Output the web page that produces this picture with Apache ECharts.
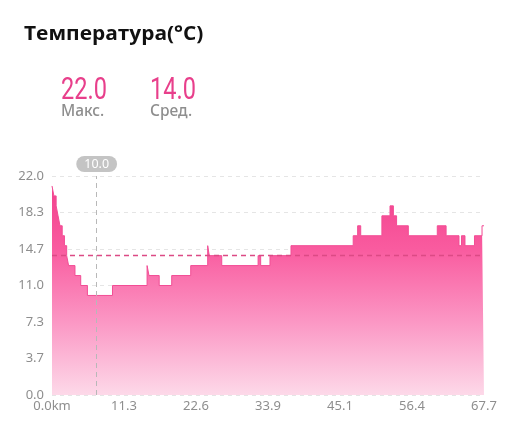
<!DOCTYPE html>
<html>
<head>
<meta charset="utf-8">
<script src="https://cdn.jsdelivr.net/npm/echarts@6/dist/echarts.min.js"></script>
<style>
html,body{margin:0;padding:0;background:#fff;}
#chart{width:512px;height:421px;}
</style>
</head>
<body>
<div id="chart"></div>
<script>
// ---- data ----
var chartTitle = 'Температура(°C)';
var statValues = ['22.0', '14.0'];
var statLabels = ['Макс.', 'Сред.'];
// distance (km) where each step begins, and its temperature (°C)
var segStartKm = [0, 0.3, 0.65, 0.95, 1.25, 1.6, 1.95, 2.3, 2.6, 3.6,
  4.5, 5.55, 9.48, 14.9, 15.2, 16.8, 18.76, 21.74, 24.4, 24.65,
  26.6, 32.3, 32.7, 34.16, 37.45, 47.2, 47.9, 48.38, 51.7, 52.97,
  53.5, 54.0, 55.84, 60.38, 61.76, 63.78, 64.17, 64.72, 66.21, 67.39,
  67.7];
var tempC = [21, 20, 19, 18, 17, 16, 15, 14, 13, 12,
  11, 10, 11, 13, 12, 11, 12, 13, 15, 14,
  13, 14, 13, 14, 15, 16, 17, 16, 18, 19,
  18, 17, 16, 17, 16, 15, 16, 15, 16, 17,
  17];
var avgTemp = 14.0;
var cursorKm = 7.0;
var xTickLabels = ['0.0km', '11.3', '22.6', '33.9', '45.1', '56.4', '67.7'];
var yTickLabels = ['0.0', '3.7', '7.3', '11.0', '14.7', '18.3', '22.0'];
var xMax = 67.7, yMax = 22.0;

// ---- build ----
var seriesData = segStartKm.map(function (k, i) { return [k, tempC[i]]; });
function tempAt(km) {
  var v = tempC[0];
  for (var i = 0; i < segStartKm.length; i++) { if (segStartKm[i] <= km) v = tempC[i]; }
  return v;
}
var xInt = xMax / (xTickLabels.length - 1);
var yInt = yMax / (yTickLabels.length - 1);
var pink = '#e83f8b';
var numFont = '31px Roboto, "Noto Sans", sans-serif';
var lblFont = '500 15.5px "Noto Sans", sans-serif';

var chart = echarts.init(document.getElementById('chart'), null, {renderer: 'canvas'});
chart.setOption({
  animation: false,
  backgroundColor: '#ffffff',
  grid: {left: 52, right: 28, top: 176, bottom: 26},
  graphic: [
    {type: 'text', x: 24, y: 24, scaleX: 1.07, style: {text: chartTitle, fill: '#111111', font: '700 19.5px "Open Sans", sans-serif'}},
    {type: 'text', x: 61, y: 76, scaleX: 0.76, style: {text: statValues[0], fill: pink, font: numFont}},
    {type: 'text', left: 61, top: 104, style: {text: statLabels[0], fill: '#8e8e8e', font: lblFont}},
    {type: 'text', x: 150, y: 76, scaleX: 0.76, style: {text: statValues[1], fill: pink, font: numFont}},
    {type: 'text', left: 150, top: 104, style: {text: statLabels[1], fill: '#8e8e8e', font: lblFont}}
  ],
  xAxis: {
    type: 'value', min: 0, max: xMax, interval: xInt,
    axisLine: {show: false}, axisTick: {show: false},
    splitLine: {show: false},
    axisLabel: {
      color: '#8e8e8e', fontSize: 13, margin: 5, showMaxLabel: true,
      fontFamily: '"Noto Sans", sans-serif',
      formatter: function (v) { return xTickLabels[Math.round(v / xInt)]; }
    }
  },
  yAxis: {
    type: 'value', min: 0, max: yMax, interval: yInt, z: 3,
    axisLine: {show: false}, axisTick: {show: false},
    splitLine: {show: true, lineStyle: {color: 'rgba(215,215,215,0.65)', type: [4, 4], width: 1}},
    axisLabel: {
      color: '#8e8e8e', fontSize: 13, margin: 8,
      fontFamily: '"Noto Sans", sans-serif',
      formatter: function (v) { return yTickLabels[Math.round(v / yInt)]; }
    }
  },
  series: [{
    type: 'line', step: 'end', data: seriesData, symbol: 'none',
    lineStyle: {color: '#f24d95', width: 1},
    areaStyle: {
      opacity: 1,
      color: new echarts.graphic.LinearGradient(0, 0, 0, 1, [
        {offset: 0, color: '#f2428d'},
        {offset: 0.3, color: '#f95b9f'},
        {offset: 0.65, color: '#fb97c4'},
        {offset: 1, color: '#fdd9e9'}
      ])
    },
    markLine: {
      silent: true, symbol: ['none', 'none'], animation: false,
      data: [
        {yAxis: avgTemp, lineStyle: {color: '#dc4a85', type: [5, 4], width: 1.4}, label: {show: false}},
        {xAxis: cursorKm, lineStyle: {color: '#b8b8b8', type: [5, 4], width: 1},
          label: {show: true, position: 'end', distance: 4, formatter: tempAt(cursorKm).toFixed(1),
            color: '#ffffff', fontSize: 12.5, backgroundColor: '#c4c4c4', borderRadius: 9,
            padding: [2, 8, 1, 8], fontFamily: '"Noto Sans", sans-serif'}}
      ]
    }
  }]
});
</script>
</body>
</html>
